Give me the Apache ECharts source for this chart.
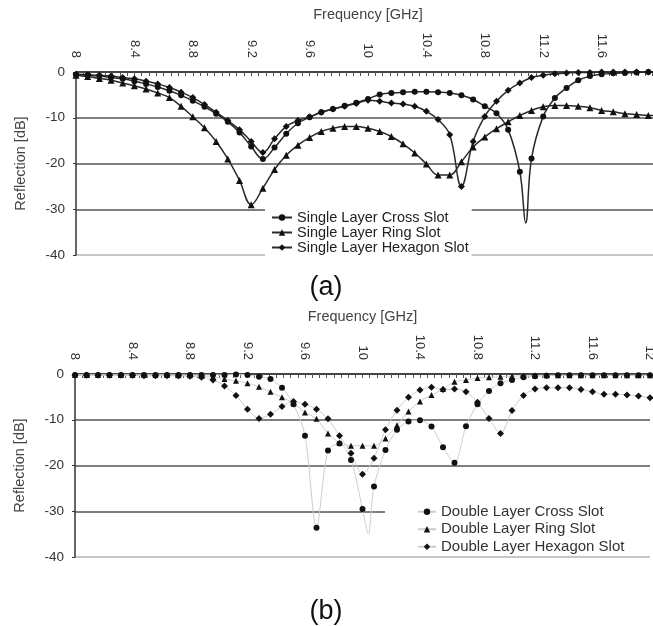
<!DOCTYPE html>
<html>
<head>
<meta charset="utf-8">
<title>Reflection - single / double layer slots</title>
<script src="https://cdn.jsdelivr.net/npm/echarts@6/dist/echarts.min.js"></script>
<style>
  html, body { margin: 0; padding: 0; background: #fff; }
  #chart { width: 653px; height: 626px; }
</style>
</head>
<body>
<div id="chart"></div>
<script>
// 频率采样点 (GHz)，两张图相同
const freq = [
  8.00, 8.08, 8.16, 8.24, 8.32, 8.40, 8.48, 8.56, 8.64, 8.72,
  8.80, 8.88, 8.96, 9.04, 9.12, 9.20, 9.28, 9.36, 9.44, 9.52,
  9.60, 9.68, 9.76, 9.84, 9.92, 10.00, 10.08, 10.16, 10.24, 10.32,
  10.40, 10.48, 10.56, 10.64, 10.72, 10.80, 10.88, 10.96, 11.04, 11.12,
  11.20, 11.28, 11.36, 11.44, 11.52, 11.60, 11.68, 11.76, 11.84, 11.92, 12.00
];

// (a) single layer, dB
const singleCross = [
  -0.6, -0.7, -0.9, -1.2, -1.5, -2.0, -2.6, -3.3, -4.1, -5.1,
  -6.3, -7.6, -9.1, -10.9, -13.2, -16.3, -19.0, -16.5, -13.5, -11.2,
  -9.9, -8.8, -8.1, -7.4, -6.7, -5.9, -4.9, -4.6, -4.4, -4.3,
  -4.3, -4.4, -4.6, -5.1, -6.0, -7.5, -9.0, -12.6, -21.8, -18.9,
  -9.7, -5.7, -3.5, -1.8, -0.9, -0.5, -0.3, -0.2, -0.1, 0, 0
];
const singleRing = [
  -0.7, -1.0, -1.4, -1.8, -2.4, -3.0, -3.7, -4.6, -5.6, -7.5,
  -9.8, -12.2, -15.2, -19.0, -23.7, -29.0, -25.4, -21.3, -18.2, -16.0,
  -14.3, -13.0, -12.3, -11.9, -11.9, -12.3, -13.0, -14.1, -15.7, -17.7,
  -20.1, -22.5, -22.5, -19.6, -16.4, -14.2, -12.4, -10.9, -9.5, -8.4,
  -7.6, -7.3, -7.3, -7.5, -7.8, -8.4, -8.7, -9.1, -9.3, -9.5, -9.5
];
const singleHex = [
  -0.5, -0.6, -0.7, -0.9, -1.2, -1.5, -2.0, -2.6, -3.4, -4.4,
  -5.6, -7.1, -8.8, -10.6, -12.6, -15.2, -17.6, -14.6, -11.9, -10.6,
  -9.8, -8.8, -8.1, -7.5, -6.9, -6.2, -6.4, -6.8, -7.0, -7.5,
  -8.6, -10.4, -13.7, -25.0, -15.2, -9.7, -6.4, -4.0, -2.4, -1.2,
  -0.7, -0.4, -0.2, -0.1, -0.1, 0, 0, 0, 0, 0, 0
];
// 曲线在两个采样点之间的最低点（无标记）
const singleCrossDip = [11.08, -33.0];

// (b) double layer, dB
const doubleCross = [
  -0.2, -0.2, -0.2, -0.2, -0.2, -0.2, -0.2, -0.2, -0.2, -0.2,
  -0.2, -0.2, -0.2, -0.2, -0.1, -0.2, -0.6, -1.1, -3.0, -6.6,
  -13.5, -33.6, -16.7, -15.2, -18.8, -29.5, -24.6, -16.6, -12.2, -10.4,
  -10.1, -11.5, -16.0, -19.4, -11.4, -6.6, -3.7, -2.0, -1.3, -0.7,
  -0.5, -0.4, -0.3, -0.3, -0.3, -0.3, -0.3, -0.3, -0.3, -0.3, -0.3
];
const doubleRing = [
  -0.2, -0.2, -0.2, -0.2, -0.2, -0.2, -0.2, -0.2, -0.2, -0.3,
  -0.3, -0.4, -0.6, -1.1, -1.5, -2.0, -2.8, -3.9, -5.1, -6.4,
  -8.4, -9.8, -13.0, -15.0, -15.7, -15.7, -15.7, -14.1, -11.2, -8.2,
  -6.0, -4.6, -3.3, -1.7, -1.3, -0.9, -0.7, -0.6, -0.5, -0.4,
  -0.3, -0.3, -0.3, -0.3, -0.3, -0.3, -0.3, -0.3, -0.3, -0.3, -0.3
];
const doubleHex = [
  -0.3, -0.3, -0.3, -0.3, -0.3, -0.3, -0.4, -0.4, -0.4, -0.4,
  -0.5, -0.7, -1.3, -2.6, -4.7, -7.7, -9.7, -8.8, -7.1, -6.0,
  -6.6, -7.7, -9.8, -13.5, -17.3, -21.9, -18.4, -12.2, -7.9, -5.1,
  -3.5, -2.9, -3.4, -3.3, -3.9, -6.2, -9.7, -13.0, -8.0, -4.7,
  -3.3, -3.0, -3.0, -3.0, -3.4, -3.9, -4.4, -4.4, -4.6, -4.8, -5.2
];
const doubleCrossDip = [10.04, -35.0];

const singleNames = ['Single Layer Cross Slot', 'Single Layer Ring Slot', 'Single Layer Hexagon Slot'];
const doubleNames = ['Double Layer Cross Slot', 'Double Layer Ring Slot', 'Double Layer Hexagon Slot'];

const FONT = "'Liberation Sans', Arial, sans-serif";

// 组合 [频率, dB]，可插入一个无标记的谷底点
function toPoints(values, dip) {
  const pts = freq.map((f, i) => [f, values[i]]);
  if (dip) {
    const at = freq.findIndex(f => f > dip[0]);
    pts.splice(at, 0, { value: dip, symbol: 'none' });
  }
  return pts;
}

function xAxisFor(grid) {
  return {
    gridIndex: grid, type: 'value', position: 'top',
    min: 8, max: 12, interval: 0.4,
    name: 'Frequency [GHz]', nameLocation: 'middle', nameGap: 50,
    nameTextStyle: { fontFamily: FONT, fontSize: 14.5, color: '#444' },
    axisLine: { onZero: false, lineStyle: { color: '#333', width: 1.5 } },
    axisTick: { show: true, inside: true, length: 4, lineStyle: { color: '#555' } },
    minorTick: { show: true, splitNumber: 8, length: 4, lineStyle: { color: '#555' } },
    axisLabel: {
      rotate: 90, margin: 14, fontFamily: FONT, fontSize: 13, color: '#333',
      formatter: v => String(+v.toFixed(1))
    },
    splitLine: { show: false }
  };
}

function yAxisFor(grid) {
  return {
    gridIndex: grid, type: 'value', min: -40, max: 0, interval: 10,
    name: 'Reflection [dB]', nameLocation: 'middle', nameGap: 48,
    nameTextStyle: { fontFamily: FONT, fontSize: 14.5, color: '#444' },
    axisLine: { show: true, onZero: false, lineStyle: { color: '#333', width: 1.5 } },
    axisTick: { show: true, length: 3, lineStyle: { color: '#333' } },
    axisLabel: { margin: 11, fontFamily: FONT, fontSize: 13.5, color: '#333' },
    splitLine: {
      show: true,
      // -40 线较浅，其余深色
      lineStyle: { color: ['#b4b4b4', '#555', '#555', '#555', '#555'], width: 1.5 }
    }
  };
}

function singleSeries(name, values, symbol, size, dip) {
  return {
    type: 'line', name, xAxisIndex: 0, yAxisIndex: 0,
    data: toPoints(values, dip), smooth: 0.4, showAllSymbol: true,
    symbol, symbolSize: size,
    lineStyle: { color: '#2a2a2a', width: 1.5 },
    itemStyle: { color: '#111' },
    emphasis: { disabled: true }
  };
}

function doubleSeries(name, values, symbol, size, dip) {
  return {
    type: 'line', name, xAxisIndex: 1, yAxisIndex: 1,
    data: toPoints(values, dip), smooth: 0.3, showAllSymbol: true,
    symbol, symbolSize: size,
    lineStyle: { color: '#cdcdcd', width: 1 },
    itemStyle: { color: '#111' },
    emphasis: { disabled: true }
  };
}

const chart = echarts.init(document.getElementById('chart'), null, { renderer: 'canvas' });

chart.setOption({
  animation: false,
  backgroundColor: '#fff',
  textStyle: { fontFamily: FONT },
  grid: [
    // 上图右端超出画布，按原图裁掉
    { left: 76, top: 72, width: 584, height: 183, outerBoundsMode: 'none', containLabel: false },
    { left: 75, top: 374, width: 575, height: 183, outerBoundsMode: 'none', containLabel: false }
  ],
  xAxis: [xAxisFor(0), xAxisFor(1)],
  yAxis: [yAxisFor(0), yAxisFor(1)],
  legend: [
    {
      data: singleNames, orient: 'vertical', left: 265, top: 207,
      backgroundColor: '#fff', padding: [3, 3, 4, 6],
      itemWidth: 20, itemHeight: 8, itemGap: 0,
      textStyle: { fontFamily: FONT, fontSize: 14.5, lineHeight: 15, color: '#222' },
      selectedMode: false
    },
    {
      data: doubleNames, orient: 'vertical', left: 385, top: 503,
      backgroundColor: '#fff', padding: [0, 27, 0, 32],
      itemWidth: 18, itemHeight: 8, itemGap: 0,
      textStyle: { fontFamily: FONT, fontSize: 15, lineHeight: 17.5, color: '#333' },
      selectedMode: false
    }
  ],
  graphic: [
    { type: 'text', x: 326, y: 288, style: { text: '(a)', font: "27px 'Liberation Sans', Arial, sans-serif", fill: '#111', align: 'center', verticalAlign: 'middle' } },
    { type: 'text', x: 326, y: 612, style: { text: '(b)', font: "27px 'Liberation Sans', Arial, sans-serif", fill: '#111', align: 'center', verticalAlign: 'middle' } }
  ],
  series: [
    singleSeries(singleNames[0], singleCross, 'circle', 6, singleCrossDip),
    singleSeries(singleNames[1], singleRing, 'triangle', 7),
    singleSeries(singleNames[2], singleHex, 'diamond', 7),
    doubleSeries(doubleNames[0], doubleCross, 'circle', 6, doubleCrossDip),
    doubleSeries(doubleNames[1], doubleRing, 'triangle', 6),
    doubleSeries(doubleNames[2], doubleHex, 'diamond', 7)
  ]
});

window.addEventListener('resize', () => chart.resize());
</script>
</body>
</html>
